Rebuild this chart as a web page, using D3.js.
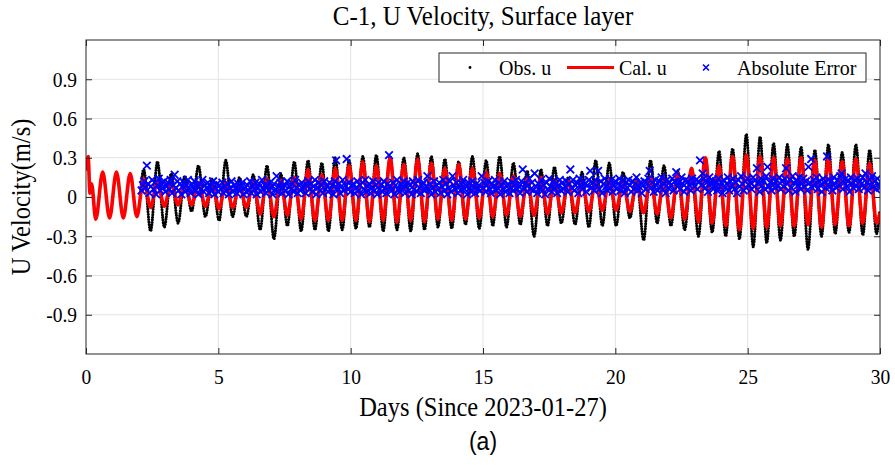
<!DOCTYPE html>
<html><head><meta charset="utf-8">
<script src="https://cdn.jsdelivr.net/npm/d3@7"></script>
<style>body{margin:0;background:#fff}</style>
</head><body><svg id="c" width="895" height="465"></svg>
<script>
// ---- data ----
const xTicks = [0, 5, 10, 15, 20, 25, 30];
const yTicks = [-0.9, -0.6, -0.3, 0, 0.3, 0.6, 0.9];

// times (days) of tidal highs and lows
const peakDays = [0.63,1.15,1.67,2.18,2.70,3.22,3.73,4.25,4.77,5.28,5.80,6.32,6.84,7.36,7.87,8.39,8.91,9.42,9.94,10.46,
  10.97,11.49,12.01,12.53,13.05,13.56,14.08,14.60,15.12,15.63,16.15,16.67,17.19,17.70,18.22,18.74,19.26,19.77,20.29,20.81,
  21.33,21.84,22.36,22.88,23.40,23.92,24.43,24.95,25.47,25.98,26.50,27.02,27.54,28.05,28.57,29.09,29.61];
const troughDays = [0.37,0.89,1.41,1.92,2.44,2.96,3.48,3.99,4.51,5.03,5.54,6.06,6.58,7.10,7.61,8.13,8.65,9.16,9.68,10.20,
  10.71,11.23,11.75,12.27,12.79,13.30,13.82,14.34,14.86,15.37,15.89,16.41,16.93,17.44,17.96,18.48,19.00,19.51,20.03,20.55,
  21.07,21.58,22.10,22.62,23.14,23.66,24.17,24.69,25.21,25.72,26.24,26.76,27.28,27.79,28.31,28.83,29.35,29.87];

// Cal. u (model) extremes
const calStart = [[0, 0.20], [0.08, 0.31], [0.15, 0.03], [0.21, 0.10]];
const calPeaks = [0.19,0.19,0.18,0.14,0.12,0.11,0.10,0.11,0.10,0.11,0.09,0.12,0.14,0.13,0.15,0.21,0.17,0.22,0.24,0.27,
  0.24,0.30,0.25,0.29,0.26,0.22,0.25,0.22,0.19,0.18,0.16,0.14,0.15,0.13,0.12,0.11,0.12,0.13,0.12,0.12,
  0.15,0.14,0.18,0.22,0.30,0.24,0.31,0.32,0.31,0.30,0.29,0.30,0.28,0.29,0.27,0.29,0.26];
const calTroughs = [-0.17,-0.16,-0.16,-0.15,-0.08,-0.07,-0.06,-0.06,-0.07,-0.09,-0.08,-0.08,-0.13,-0.15,-0.14,-0.17,-0.18,-0.18,-0.18,-0.18,
  -0.19,-0.18,-0.19,-0.18,-0.19,-0.17,-0.18,-0.17,-0.16,-0.15,-0.14,-0.15,-0.14,-0.13,-0.12,-0.12,-0.11,-0.10,-0.10,-0.11,
  -0.12,-0.13,-0.16,-0.17,-0.19,-0.20,-0.22,-0.25,-0.24,-0.23,-0.22,-0.22,-0.21,-0.23,-0.21,-0.22,-0.20,-0.20];
const calEnd = [[30, -0.12]];

// Obs. u extremes (record starts at day 2.05; peaks from the 4th high, troughs from the 5th low)
const obsStart = [[2.05, 0.02]];
const obsPeaks = [0.21,0.27,0.18,0.16,0.24,0.14,0.28,0.15,0.17,0.24,0.18,0.27,0.28,0.26,0.30,0.28,0.31,0.32,0.31,0.30,
  0.33,0.31,0.29,0.27,0.31,0.28,0.31,0.26,0.20,0.21,0.23,0.15,0.19,0.28,0.26,0.19,0.15,0.28,0.24,0.20,
  0.22,0.30,0.35,0.37,0.48,0.46,0.41,0.40,0.38,0.36,0.40,0.34,0.40,0.36];
const obsTroughs = [-0.26,-0.23,-0.20,-0.11,-0.15,-0.18,-0.15,-0.15,-0.25,-0.32,-0.22,-0.26,-0.25,-0.26,-0.25,-0.24,-0.23,-0.26,-0.25,-0.26,
  -0.25,-0.23,-0.24,-0.21,-0.24,-0.22,-0.23,-0.21,-0.30,-0.22,-0.20,-0.21,-0.23,-0.22,-0.22,-0.16,-0.33,-0.20,-0.22,-0.25,
  -0.30,-0.27,-0.30,-0.32,-0.38,-0.35,-0.33,-0.30,-0.40,-0.30,-0.28,-0.27,-0.29,-0.28];
const obsEnd = [[29.98, -0.12]];

// Absolute error, one value every 0.05 day from day 2.10
const errStartDay = 2.10, errStepDay = 0.05;
const errValues = [
0.05,0.09,0.12,0.07,0.24,0.10,0.03,0.08,0.13,0.06,0.11,0.02,0.09,0.14,0.05,0.10,0.07,0.12,0.04,0.08,
0.11,0.06,0.13,0.03,0.09,0.17,0.07,0.12,0.05,0.10,0.02,0.08,0.11,0.04,0.09,0.13,0.06,0.03,0.10,0.07,
0.12,0.05,0.08,0.02,0.10,0.06,0.13,0.04,0.09,0.07,0.11,0.03,0.08,0.05,0.12,0.02,0.07,0.10,0.04,0.09,
0.06,0.11,0.03,0.08,0.05,0.10,0.02,0.07,0.12,0.04,0.09,0.06,0.03,0.10,0.05,0.08,0.11,0.02,0.07,0.04,
0.09,0.05,0.12,0.03,0.08,0.06,0.11,0.02,0.07,0.10,0.04,0.13,0.06,0.09,0.03,0.08,0.05,0.11,0.07,0.02,
0.10,0.06,0.16,0.04,0.08,0.11,0.03,0.07,0.09,0.05,0.12,0.02,0.08,0.06,0.10,0.04,0.13,0.07,0.03,0.09,
0.05,0.11,0.08,0.07,0.03,0.09,0.12,0.06,0.10,0.04,0.08,0.13,0.02,0.07,0.11,0.05,0.09,0.03,0.12,0.06,
0.08,0.04,0.11,0.06,0.09,0.02,0.12,0.28,0.07,0.10,0.03,0.08,0.13,0.05,0.09,0.29,0.06,0.11,0.04,0.08,
0.10,0.03,0.07,0.12,0.05,0.09,0.02,0.11,0.06,0.13,0.04,0.08,0.10,0.03,0.07,0.12,0.05,0.09,0.02,0.11,
0.06,0.09,0.04,0.12,0.07,0.03,0.10,0.32,0.08,0.05,0.11,0.02,0.09,0.13,0.06,0.04,0.10,0.07,0.12,0.03,
0.08,0.11,0.05,0.09,0.02,0.12,0.06,0.10,0.04,0.13,0.07,0.03,0.09,0.11,0.05,0.08,0.16,0.06,0.10,0.02,
0.07,0.12,0.04,0.09,0.06,0.11,0.03,0.08,0.13,0.05,0.10,0.02,0.07,0.12,0.04,0.16,0.09,0.06,0.11,0.03,
0.08,0.05,0.10,0.13,0.06,0.09,0.02,0.11,0.07,0.04,0.12,0.08,0.03,0.10,0.06,0.09,0.05,0.16,0.07,0.11,
0.04,0.09,0.12,0.06,0.03,0.10,0.08,0.13,0.05,0.07,0.11,0.02,0.09,0.06,0.12,0.04,0.08,0.10,0.03,0.07,
0.11,0.05,0.09,0.13,0.06,0.08,0.03,0.12,0.21,0.07,0.10,0.04,0.09,0.14,0.06,0.11,0.05,0.18,0.08,0.03,
0.10,0.07,0.13,0.05,0.09,0.02,0.11,0.06,0.14,0.08,0.04,0.12,0.07,0.10,0.03,0.09,0.13,0.05,0.11,0.06,
0.08,0.12,0.04,0.10,0.21,0.07,0.13,0.05,0.09,0.11,0.03,0.14,0.08,0.06,0.12,0.10,0.04,0.09,0.13,0.20,
0.07,0.11,0.05,0.13,0.09,0.20,0.06,0.12,0.03,0.10,0.14,0.08,0.05,0.11,0.07,0.13,0.04,0.09,0.12,0.06,
0.10,0.14,0.05,0.08,0.12,0.03,0.11,0.07,0.13,0.09,0.04,0.12,0.06,0.10,0.15,0.05,0.08,0.11,0.03,0.09,
0.12,0.06,0.10,0.14,0.20,0.07,0.11,0.04,0.13,0.09,0.05,0.12,0.08,0.15,0.06,0.10,0.03,0.13,0.07,0.11,
0.09,0.14,0.05,0.12,0.19,0.08,0.11,0.06,0.15,0.10,0.04,0.13,0.07,0.12,0.09,0.05,0.14,0.11,0.08,0.13,
0.06,0.12,0.28,0.09,0.18,0.14,0.07,0.11,0.04,0.15,0.10,0.13,0.06,0.09,0.12,0.05,0.14,0.08,0.11,0.03,
0.13,0.07,0.10,0.15,0.05,0.12,0.09,0.14,0.06,0.11,0.03,0.13,0.08,0.16,0.10,0.05,0.12,0.07,0.14,0.09,
0.11,0.06,0.15,0.08,0.13,0.22,0.10,0.04,0.14,0.09,0.12,0.06,0.16,0.23,0.08,0.11,0.05,0.14,0.10,0.07,
0.13,0.09,0.15,0.06,0.12,0.08,0.14,0.22,0.10,0.05,0.13,0.07,0.16,0.11,0.04,0.12,0.09,0.15,0.06,0.10,
0.14,0.08,0.12,0.05,0.23,0.11,0.29,0.07,0.13,0.10,0.15,0.06,0.12,0.09,0.04,0.14,0.11,0.07,0.31,0.13,
0.08,0.12,0.05,0.15,0.10,0.07,0.13,0.09,0.16,0.18,0.06,0.11,0.14,0.08,0.12,0.04,0.15,0.10,0.07,0.13,
0.09,0.14,0.06,0.12,0.10,0.15,0.07,0.18,0.11,0.05,0.13,0.09,0.16,0.08,0.12,0.06,0.14,0.10,0.07,0.11];

// ---- build series ----
const byDay = (a, b) => a[0] - b[0];
const calSeries = calStart
  .concat(peakDays.map((d, i) => [d, calPeaks[i]]))
  .concat(troughDays.map((d, i) => [d, calTroughs[i]]).filter(p => p[0] > 0.3))
  .sort(byDay).concat(calEnd);
const obsSeries = obsStart
  .concat(peakDays.slice(3).map((d, i) => [d, obsPeaks[i]]))
  .concat(troughDays.slice(4).map((d, i) => [d, obsTroughs[i]]))
  .sort(byDay).concat(obsEnd);
const errSeries = errValues.map((v, i) => [errStartDay + i * errStepDay, v]).filter(p => p[0] <= 30.001);

// ---- layout ----
const svg = d3.select('#c');
const L = 86, R = 880, T = 40, B = 354;
const x = d3.scaleLinear().domain([0, 30]).range([L, R]);
const y = d3.scaleLinear().domain([-1.2, 1.2]).range([B, T]);
const serif = '"Liberation Serif","Times New Roman",serif';
const axisCol = '#262626';
const SY = 1.1; // vertical stretch of glyphs seen in the reference

// grid
const grid = svg.append('g');
grid.selectAll('.gx').data(xTicks.slice(1, -1)).enter().append('line')
  .attr('x1', d => x(d)).attr('x2', d => x(d)).attr('y1', T).attr('y2', B)
  .attr('stroke', '#e3e3e3').attr('stroke-width', 1);
grid.selectAll('.gy').data(yTicks).enter().append('line')
  .attr('y1', d => y(d)).attr('y2', d => y(d)).attr('x1', L).attr('x2', R)
  .attr('stroke', '#e3e3e3').attr('stroke-width', 1);

// data
svg.append('clipPath').attr('id', 'clip').append('rect')
  .attr('x', L).attr('y', T).attr('width', R - L).attr('height', B - T);
const plot = svg.append('g').attr('clip-path', 'url(#clip)');
const line = d3.line().x(d => x(d[0])).y(d => y(d[1])).curve(d3.curveMonotoneX);

plot.append('path').datum(obsSeries).attr('d', line)
  .attr('fill', 'none').attr('stroke', '#000').attr('stroke-width', 3.1)
  .attr('stroke-linecap', 'round').attr('stroke-dasharray', '0 2.6');
plot.append('path').datum(calSeries).attr('d', line)
  .attr('fill', 'none').attr('stroke', '#ff0000').attr('stroke-width', 3.6);
const xMark = 'M-3.8,-3.8L3.8,3.8M-3.8,3.8L3.8,-3.8';
plot.selectAll('.err').data(errSeries).enter().append('path')
  .attr('d', xMark).attr('transform', d => `translate(${x(d[0])},${y(d[1])})`)
  .attr('fill', 'none').attr('stroke', '#0000ff').attr('stroke-width', 1.8);

// axes
const fmt = d => d === 0 ? '0' : d3.format('.1f')(d).replace('−', '-');
function styleAxis(g, labels) {
  g.select('.domain').remove();
  g.selectAll('line').attr('stroke', axisCol).attr('stroke-width', 1);
  g.selectAll('text').attr('font-family', serif).attr('font-size', 19.5).attr('fill', '#000');
  if (!labels) g.selectAll('text').remove();
  else g.selectAll('text').each(function () {
    const t = d3.select(this);
    const yy = +t.attr('y') || 0;
    t.attr('y', yy / SY).attr('transform', `scale(1,${SY})`);
  });
}
svg.append('g').attr('transform', `translate(0,${B})`)
  .call(d3.axisBottom(x).tickValues(xTicks).tickSize(-6).tickPadding(15).tickFormat(d3.format('d')))
  .call(g => styleAxis(g, true));
svg.append('g').attr('transform', `translate(0,${T})`)
  .call(d3.axisTop(x).tickValues(xTicks).tickSize(-6))
  .call(g => styleAxis(g, false));
svg.append('g').attr('transform', `translate(${L},0)`)
  .call(d3.axisLeft(y).tickValues(yTicks).tickSize(-6).tickPadding(9).tickFormat(fmt))
  .call(g => styleAxis(g, true));
svg.append('g').attr('transform', `translate(${R},0)`)
  .call(d3.axisRight(y).tickValues(yTicks).tickSize(-6))
  .call(g => styleAxis(g, false));
svg.append('rect').attr('x', L).attr('y', T).attr('width', R - L).attr('height', B - T)
  .attr('fill', 'none').attr('stroke', axisCol).attr('stroke-width', 1);

// text helper with vertical stretch
function label(parent, tx, ty, str, size, family, anchor, rot) {
  return parent.append('text')
    .attr('transform', `translate(${tx},${ty})${rot ? ' rotate(' + rot + ')' : ''} scale(1,${SY})`)
    .attr('text-anchor', anchor || 'start').attr('font-family', family || serif)
    .attr('font-size', size).attr('fill', '#000').text(str);
}

// legend
const lg = svg.append('g');
lg.append('rect').attr('x', 439).attr('y', 53).attr('width', 427).attr('height', 29)
  .attr('fill', '#fff').attr('stroke', axisCol).attr('stroke-width', 1);
lg.append('circle').attr('cx', 470).attr('cy', 67.5).attr('r', 1.4).attr('fill', '#000');
label(lg, 499, 74.5, 'Obs. u', 20);
lg.append('line').attr('x1', 567).attr('x2', 614).attr('y1', 67.5).attr('y2', 67.5)
  .attr('stroke', '#ff0000').attr('stroke-width', 3);
label(lg, 619, 74.5, 'Cal. u', 20);
lg.append('path').attr('d', 'M-3,-3L3,3M-3,3L3,-3').attr('transform', 'translate(706,67.5)')
  .attr('fill', 'none').attr('stroke', '#0000ff').attr('stroke-width', 1.6);
label(lg, 737, 74.5, 'Absolute Error', 20);

// titles
label(svg, (L + R) / 2, 25, 'C-1, U Velocity, Surface layer', 25, serif, 'middle');
label(svg, (L + R) / 2, 416, 'Days (Since 2023-01-27)', 24.5, serif, 'middle');
label(svg, 30, (T + B) / 2, 'U Velocity(m/s)', 24.5, serif, 'middle', -90);
label(svg, (L + R) / 2, 450, '(a)', 23, '"Liberation Sans",Arial,sans-serif', 'middle');
</script></body></html>
